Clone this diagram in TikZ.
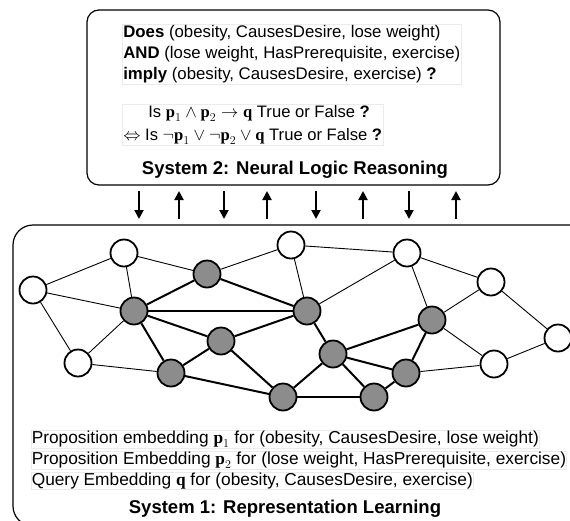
\documentclass[tikz,border=0pt]{standalone}
\usepackage{fontspec}
\setmainfont{Liberation Sans}
\newfontfamily\tms{Liberation Serif}
\usetikzlibrary{arrows.meta}
\newcommand\bvec[1]{\mbox{\tms\bfseries #1}}
\tikzset{
  wnode/.style={circle,draw=black,line width=1.8pt,fill=white,minimum size=27pt,inner sep=0pt},
  gnode/.style={circle,draw=black,line width=1.8pt,fill=black!45,minimum size=27pt,inner sep=0pt},
  thinedge/.style={line width=0.9pt},
  thickedge/.style={line width=2pt},
  sysbox/.style={draw=black,line width=1.2pt,rounded corners=12pt},
  txt/.style={font=\fontsize{16.8}{21}\selectfont,align=left,inner sep=1pt,draw=black!8,line width=0.6pt},
  mtxt/.style={font=\fontsize{16.6}{22.5}\selectfont,align=left,inner sep=1pt,draw=black!8,line width=0.6pt},
  btxt/.style={font=\fontsize{17.3}{20}\selectfont,align=left,inner sep=0.5pt,draw=black!8,line width=0.6pt},
  title/.style={font=\fontsize{18.5}{20}\selectfont\bfseries,inner sep=0pt},
  flow/.style={line width=2pt,-{Triangle[length=9pt,width=9pt]}}
}
\begin{document}
\begin{tikzpicture}[x=1pt,y=-1pt]
\useasboundingbox (0,0) rectangle (570,520);
\clip (0,0) rectangle (570,520);
\fill[white] (0,0) rectangle (570,520);
% boxes
\draw[sysbox] (87,10) rectangle (500,185);
\draw[sysbox,rounded corners=20pt] (13,225) rectangle (592,526);
% top texts
\node[txt,anchor=west] (q1) at (122,54) {\textbf{Does} (obesity, CausesDesire, lose weight)\\
\textbf{AND} (lose weight, HasPrerequisite, exercise)\\
\textbf{imply} (obesity, CausesDesire, exercise) \textbf{?}};
\node[mtxt,anchor=west] (m1) at (122,125) {\hspace*{25pt}Is $\bvec{p}_1 \wedge \bvec{p}_2 \rightarrow \bvec{q}$ True or False \textbf{?}\\
$\Leftrightarrow$ Is $\neg\bvec{p}_1 \vee \neg\bvec{p}_2 \vee \bvec{q}$ True or False \textbf{?}};
\node[title] (t2) at (295,170) {System 2: Neural Logic Reasoning};
% arrows
\foreach \i/\x in {1/139,2/224,3/316,4/409}{
  \coordinate (dt\i) at (\x,191); \coordinate (db\i) at (\x,219);
  \draw[flow] (dt\i) -- (db\i);}
\foreach \i/\x in {1/179,2/267,3/363,4/456}{
  \coordinate (ub\i) at (\x,219); \coordinate (ut\i) at (\x,191);
  \draw[flow] (ub\i) -- (ut\i);}
% graph nodes
\node[wnode] (W1) at (33,290) {};
\node[wnode] (W2) at (124,253) {};
\node[wnode] (W3) at (78,363) {};
\node[wnode] (W4) at (291,245) {};
\node[wnode] (W5) at (407,253) {};
\node[wnode] (W6) at (491,282) {};
\node[wnode] (W7) at (494,364) {};
\node[wnode] (W8) at (558,338) {};
\node[gnode] (G1) at (207,274) {};
\node[gnode] (G2) at (134,311) {};
\node[gnode] (G3) at (221,341) {};
\node[gnode] (G4) at (171,373) {};
\node[gnode] (G5) at (283,397) {};
\node[gnode] (G6) at (307,311) {};
\node[gnode] (G7) at (333,354) {};
\node[gnode] (G8) at (374,397) {};
\node[gnode] (G9) at (406,373) {};
\node[gnode] (G10) at (432,320) {};
% thin edges
\foreach \a/\b in {W1/W2,W1/G2,W1/W3,W2/G1,W2/G2,G1/W4,G2/W3,W3/G4,W4/W5,W4/G6,G6/W5,G9/W7,G10/W5,G10/W6,G10/W7,W5/W6,W6/W8,W7/W8}
  \draw[thinedge] (\a) -- (\b);
% thick edges
\foreach \a/\b in {G1/G2,G1/G6,G2/G6,G2/G3,G2/G4,G4/G3,G3/G6,G3/G5,G4/G5,G6/G7,G5/G7,G5/G8,G7/G8,G7/G9,G7/G10,G8/G9,G9/G10}
  \draw[thickedge] (\a) -- (\b);
% bottom texts
\node[btxt,anchor=west] (e1) at (31,439) {Proposition embedding $\bvec{p}_1$ for (obesity, CausesDesire, lose weight)};
\node[btxt,anchor=west] (e2) at (31,460) {Proposition Embedding $\bvec{p}_2$ for (lose weight, HasPrerequisite, exercise)};
\node[btxt,anchor=west] (e3) at (31,481) {Query Embedding $\bvec{q}$ for (obesity, CausesDesire, exercise)};
\node[title] (t1) at (285,509) {System 1: Representation Learning};
\end{tikzpicture}
\end{document}
